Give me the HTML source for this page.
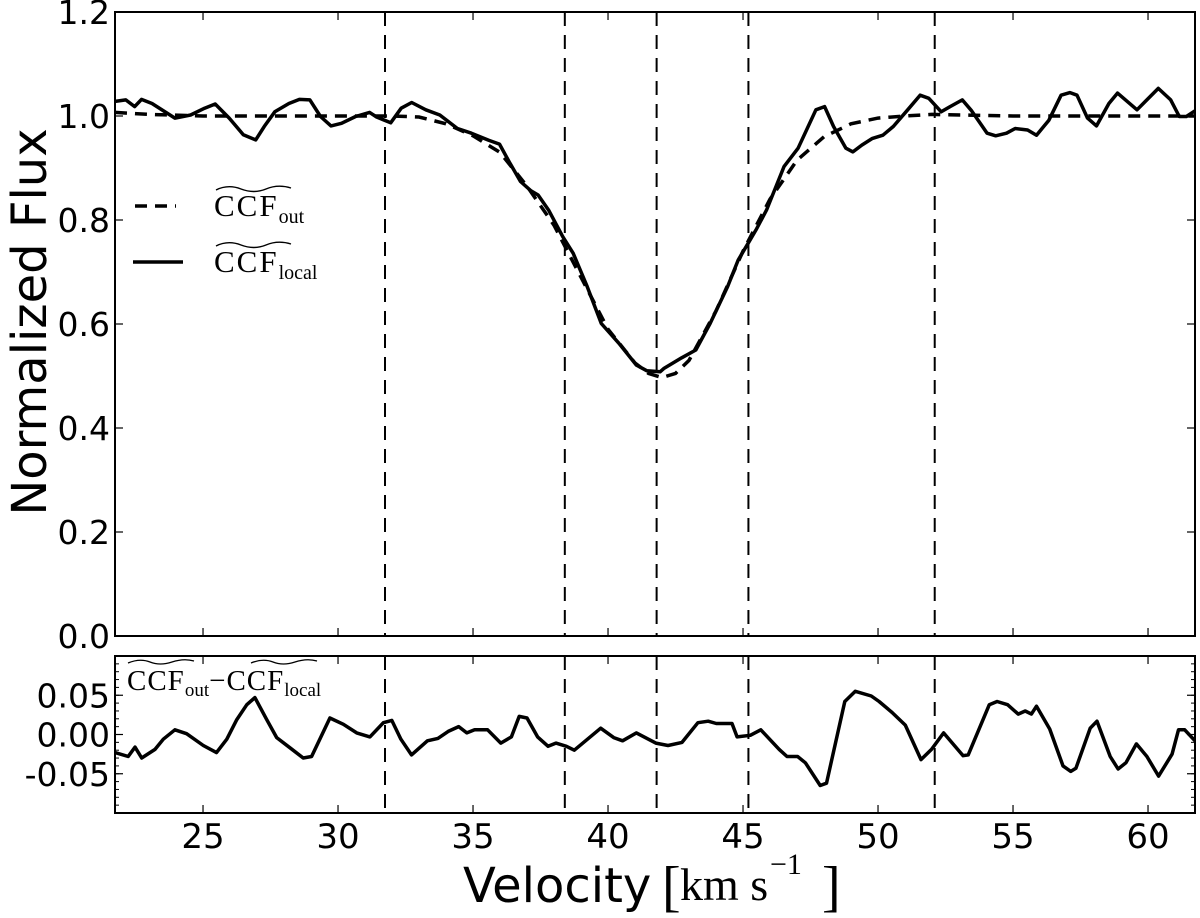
<!DOCTYPE html>
<html><head><meta charset="utf-8"><style>
html,body{margin:0;padding:0;background:#fff;}
svg{display:block;font-family:"DejaVu Sans","Liberation Sans",sans-serif;}
</style></head><body>
<svg id="chart" width="1200" height="918" viewBox="0 0 1200 918" xmlns="http://www.w3.org/2000/svg"></svg>
<script>
const xTicks=[25,30,35,40,45,50,55,60];
const topYTicks=[0.0,0.2,0.4,0.6,0.8,1.0,1.2];
const topYLabels=["0.0","0.2","0.4","0.6","0.8","1.0","1.2"];
const botYTicks=[-0.05,0,0.05];
const botYLabels=["-0.05","0.00","0.05"];
const markerVel=[31.74,38.4,41.8,45.2,52.1];
const localVel=[21.74,22.14,22.47,22.72,23.11,23.96,24.54,25.06,25.45,25.97,26.49,26.95,27.27,27.66,28.18,28.57,28.96,29.35,29.74,30.13,30.65,31.17,31.43,31.95,32.34,32.73,33.25,33.77,34.42,34.94,35.59,35.98,36.37,36.76,37.15,37.41,37.8,38.32,38.71,39.23,39.75,40.4,41.05,41.44,41.93,42.08,42.73,43.25,43.78,44.43,44.82,45.22,45.48,45.87,46.52,47.04,47.7,48.02,48.35,48.81,49.07,49.4,49.79,50.18,50.57,51.1,51.56,51.88,52.34,52.67,53.12,53.45,54.04,54.36,54.76,55.08,55.54,55.87,56.33,56.78,57.11,57.37,57.76,58.09,58.55,58.87,59.59,60.38,60.84,61.16,61.42,61.74];
const localFlux=[1.028,1.031,1.018,1.032,1.024,0.996,1.002,1.015,1.023,0.996,0.964,0.954,0.98,1.008,1.024,1.032,1.031,0.999,0.981,0.986,0.999,1.007,0.998,0.987,1.015,1.026,1.012,1.002,0.976,0.967,0.953,0.946,0.909,0.874,0.856,0.848,0.819,0.768,0.736,0.672,0.601,0.563,0.521,0.51,0.508,0.515,0.535,0.55,0.601,0.672,0.723,0.758,0.781,0.819,0.903,0.938,1.012,1.018,0.98,0.938,0.931,0.944,0.957,0.963,0.98,1.012,1.04,1.034,1.008,1.018,1.031,1.011,0.967,0.962,0.967,0.976,0.973,0.963,0.992,1.04,1.045,1.04,0.996,0.981,1.024,1.044,1.012,1.053,1.031,0.999,0.999,1.01];
const outVel=[21.74,23,25,30,32,33,34,35,36,37,38,39,40,41,41.5,42,42.5,43,44,45,46,47,48,49,50,51,52,55,61.74];
const outFlux=[1.007,1.003,1.0,1.0,1.0,0.998,0.985,0.962,0.93,0.865,0.79,0.69,0.59,0.525,0.505,0.497,0.505,0.53,0.625,0.74,0.84,0.915,0.96,0.985,0.996,1.0,1.003,1.0,1.0];
const resVel=[21.74,22.23,22.48,22.73,23.22,23.53,23.96,24.39,25.01,25.5,25.88,26.25,26.62,26.92,27.36,27.73,28.22,28.71,29.02,29.7,30.2,30.69,31.18,31.68,31.99,32.33,32.72,33.31,33.7,34.08,34.47,34.77,35.06,35.54,36.03,36.42,36.71,37.0,37.39,37.78,38.07,38.46,38.75,39.24,39.73,40.21,40.54,41.05,41.77,42.22,42.74,43.33,43.71,44.01,44.59,44.78,45.27,45.66,46.34,46.63,47.02,47.31,47.86,48.09,48.77,49.16,49.75,50.04,50.52,51.01,51.59,51.98,52.43,53.15,53.34,54.12,54.41,54.8,55.19,55.45,55.68,55.87,56.36,56.85,57.14,57.33,57.86,58.11,58.6,58.89,59.18,59.57,59.96,60.39,60.89,61.13,61.36,61.74];
const resVal=[-0.023,-0.028,-0.016,-0.03,-0.019,-0.006,0.006,0.001,-0.014,-0.023,-0.006,0.019,0.038,0.047,0.019,-0.004,-0.017,-0.03,-0.028,0.021,0.013,0.002,-0.003,0.015,0.018,-0.006,-0.026,-0.008,-0.005,0.004,0.01,0.002,0.006,0.006,-0.011,-0.003,0.023,0.021,-0.003,-0.015,-0.011,-0.015,-0.02,-0.006,0.008,-0.004,-0.008,0.002,-0.011,-0.014,-0.01,0.015,0.017,0.014,0.014,-0.003,-0.001,0.006,-0.019,-0.028,-0.028,-0.036,-0.065,-0.062,0.042,0.055,0.049,0.042,0.028,0.012,-0.032,-0.019,0.002,-0.027,-0.026,0.038,0.042,0.038,0.026,0.03,0.026,0.036,0.007,-0.04,-0.047,-0.043,0.008,0.017,-0.028,-0.044,-0.036,-0.012,-0.028,-0.053,-0.025,0.006,0.006,-0.008];

const NS="http://www.w3.org/2000/svg";
const svg=document.getElementById('chart');
const L=115,R=1195,XMIN=21.74,XMAX=61.74;
const T1=12,B1=636,Y1MIN=0,Y1MAX=1.2;
const T2=656,B2=813,Y2MIN=-0.1,Y2MAX=0.1;
const xs=v=>L+(v-XMIN)/(XMAX-XMIN)*(R-L);
const y1=v=>B1-(v-Y1MIN)/(Y1MAX-Y1MIN)*(B1-T1);
const y2=v=>B2-(v-Y2MIN)/(Y2MAX-Y2MIN)*(B2-T2);
function mk(tag,attrs,parent){const e=document.createElementNS(NS,tag);for(const k in attrs)e.setAttribute(k,attrs[k]);(parent||svg).appendChild(e);return e;}
function pathOf(xv,yv,yf){return xv.map((v,i)=>(i?'L':'M')+xs(v).toFixed(1)+','+yf(yv[i]).toFixed(1)).join(' ');}

const defs=mk('defs',{});
const c1=mk('clipPath',{id:'c1'},defs);mk('rect',{x:L,y:T1,width:R-L,height:B1-T1},c1);
const c2=mk('clipPath',{id:'c2'},defs);mk('rect',{x:L,y:T2,width:R-L,height:B2-T2},c2);

markerVel.forEach(v=>{
  const a=mk('line',{x1:xs(v),x2:xs(v),y1:T1,y2:B1,stroke:'#000','stroke-width':2,'stroke-dasharray':'14,9'});
  
  
  const b=mk('line',{x1:xs(v),x2:xs(v),y1:T2,y2:B2,stroke:'#000','stroke-width':2,'stroke-dasharray':'14,9'});
  
  
});

const pOut=mk('path',{d:pathOf(outVel,outFlux,y1),fill:'none',stroke:'#000','stroke-width':3.5,'stroke-dasharray':'12,8','clip-path':'url(#c1)'});


const pLoc=mk('path',{d:pathOf(localVel,localFlux,y1),fill:'none',stroke:'#000','stroke-width':3.5,'stroke-linejoin':'round','clip-path':'url(#c1)'});


const pRes=mk('path',{d:pathOf(resVel,resVal,y2),fill:'none',stroke:'#000','stroke-width':3.5,'stroke-linejoin':'round','clip-path':'url(#c2)'});



const f1=mk('rect',{x:L,y:T1,width:R-L,height:B1-T1,fill:'none',stroke:'#000','stroke-width':2});


const f2=mk('rect',{x:L,y:T2,width:R-L,height:B2-T2,fill:'none',stroke:'#000','stroke-width':2});



xTicks.forEach(v=>{
  const x=xs(v);
  [[T1,T1+8],[B1,B1-8],[T2,T2+8],[B2,B2-8]].forEach(p=>mk('line',{x1:x,x2:x,y1:p[0],y2:p[1],stroke:'#000','stroke-width':1.2}));
  const t=mk('text',{x:x,y:848,'text-anchor':'middle','font-size':34});
  t.textContent=String(v);
  
  
});
topYTicks.forEach((v,i)=>{
  const y=y1(v);
  mk('line',{x1:L,x2:L+8,y1:y,y2:y,stroke:'#000','stroke-width':1.2});
  mk('line',{x1:R,x2:R-8,y1:y,y2:y,stroke:'#000','stroke-width':1.2});
  const t=mk('text',{x:110,y:y+12,'text-anchor':'end','font-size':33});
  t.textContent=topYLabels[i];
  
  
});
for(let k=-9;k<=9;k++){const y=y2(k/100);
  mk('line',{x1:L,x2:L+4,y1:y,y2:y,stroke:'#000','stroke-width':1});
  mk('line',{x1:R,x2:R-4,y1:y,y2:y,stroke:'#000','stroke-width':1});}
botYTicks.forEach((v,i)=>{
  const y=y2(v);
  mk('line',{x1:L,x2:L+8,y1:y,y2:y,stroke:'#000','stroke-width':1.2});
  mk('line',{x1:R,x2:R-8,y1:y,y2:y,stroke:'#000','stroke-width':1.2});
  const t=mk('text',{x:110,y:y+12,'text-anchor':'end','font-size':33});
  t.textContent=botYLabels[i];
  
  
});
</script>
<svg style="position:absolute;left:0;top:0" width="1200" height="918" xmlns="http://www.w3.org/2000/svg">
  <text x="0" y="0" transform="translate(46,322) rotate(-90)" text-anchor="middle" font-size="48" font-family="DejaVu Sans, Liberation Sans, sans-serif">Normalized Flux</text>
  <g>
    <text x="463" y="902" font-size="48" font-family="DejaVu Sans, Liberation Sans, sans-serif">Velocity</text>
    <text x="662" y="905" font-size="56" font-family="Liberation Serif, serif">[</text>
    <text x="680" y="900" font-size="46" font-family="Liberation Serif, serif">km s</text>
    <text x="770" y="874" font-size="30" font-family="Liberation Serif, serif">−1</text>
    <text x="822" y="905" font-size="56" font-family="Liberation Serif, serif">]</text>
  </g>
  <g font-family="Liberation Serif, serif">
    <line x1="135" x2="176" y1="206" y2="206" stroke="#000" stroke-width="3.5" stroke-dasharray="12,8"/>
    <path d="M216,190 q12,-6 25,-1 t25,0 t25,-1" fill="none" stroke="#000" stroke-width="1.4"/>
    <text x="214" y="216" font-size="31" letter-spacing="2">CCF<tspan font-size="20" dy="7" letter-spacing="0">out</tspan></text>
    <line x1="133" x2="183" y1="262" y2="262" stroke="#000" stroke-width="3.5"/>
    <path d="M216,246 q12,-6 25,-1 t25,0 t25,-1" fill="none" stroke="#000" stroke-width="1.4"/>
    <text x="214" y="272" font-size="31" letter-spacing="2">CCF<tspan font-size="20" dy="7" letter-spacing="0">local</tspan></text>
  </g>
  <g font-family="Liberation Serif, serif">
    <path d="M128,663 q12,-5 22,-1 t22,0 t22,-1" fill="none" stroke="#000" stroke-width="1.3"/>
    <path d="M251,663 q12,-5 22,-1 t22,0 t22,-1" fill="none" stroke="#000" stroke-width="1.3"/>
    <text x="127" y="690" font-size="29" letter-spacing="1">CCF<tspan font-size="19" dy="6" letter-spacing="0">out</tspan><tspan dy="-6">−CCF</tspan><tspan font-size="19" dy="6" letter-spacing="0">local</tspan></text>
  </g>
</svg>
</body></html>
